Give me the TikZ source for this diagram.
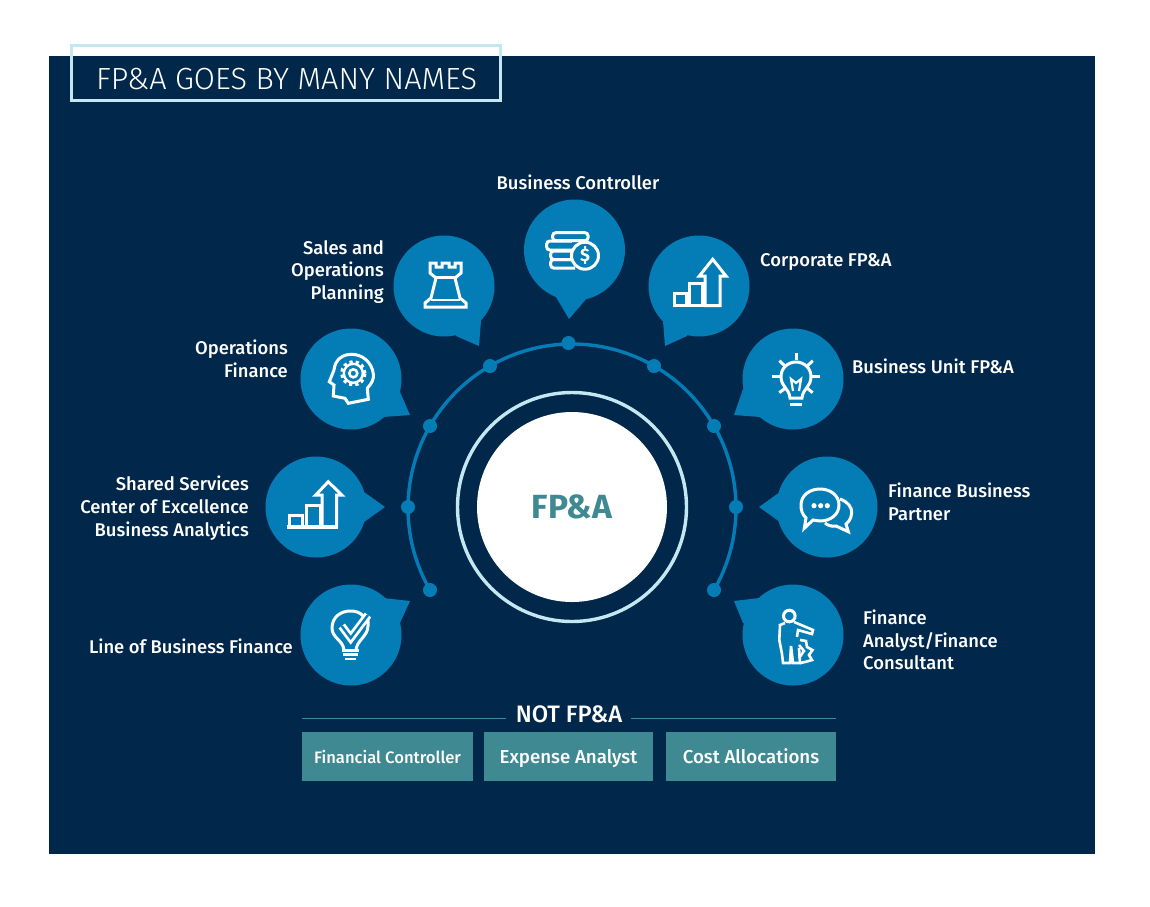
\documentclass[tikz,border=0pt]{standalone}
\usepackage{fontspec}
\setmainfont{Fira Sans}
\newfontfamily\labelfont{Fira Sans Medium}
\newfontfamily\headfont{Fira Sans Light}
\usetikzlibrary{positioning}
\definecolor{FpaNavy}{HTML}{01274A}
\definecolor{FpaBlue}{HTML}{047DB7}
\definecolor{FpaPale}{HTML}{C3E8F1}
\definecolor{FpaTeal}{HTML}{3F8992}

\begin{document}
\begin{tikzpicture}[
    x=1pt, y=-1pt,
    pin/.style={circle, fill=FpaBlue, minimum size=101pt, inner sep=0pt},
    pinfill/.style={fill=FpaBlue},
    dot/.style={circle, fill=FpaBlue, minimum size=14pt, inner sep=0pt},
    role/.style={text=white, font=\labelfont\fontsize{18.4}{22.7}\selectfont, inner sep=0pt},
    leftrole/.style={role, align=right, anchor=east},
    rightrole/.style={role, align=left, anchor=west},
    notbox/.style={fill=FpaTeal, text=white, minimum height=49pt, inner sep=0pt,
      text height=17pt, text depth=4pt, font=\labelfont\fontsize{18.7}{20}\selectfont},
    icon/.style={draw=white, line width=3pt, line join=miter},
    tick/.style={draw=white, line width=3pt}
  ]
    \useasboundingbox (0,0) rectangle (1150,906);
    \fill[white] (0,0) rectangle (1150,906);
    \fill[FpaNavy] (49,56) rectangle (1095,854);
    \node[draw=FpaPale, line width=3pt, minimum width=429pt, minimum height=55pt, inner sep=0pt] (titlebox) at (285.5,72.5) {};
    \node[text=white, font=\headfont\fontsize{30.6}{34}\selectfont, inner sep=0pt] (title) at (286.5,79) {FP\&A GOES BY MANY NAMES};

    \node[circle, draw=FpaPale, line width=3.4pt, minimum size=229pt, inner sep=0pt] (ring) at (572,507) {};
    \node[circle, fill=white, minimum size=190pt, inner sep=0pt, text=FpaTeal, font=\bfseries\fontsize{33.5}{36}\selectfont] (core) at (572,507) {FP\&A};

    \node[dot] (dota) at (430,590) {};
    \node[dot] (dotb) at (408,507) {};
    \node[dot] (dotc) at (430,426) {};
    \node[dot] (dotd) at (490,366) {};
    \node[dot] (dote) at (568.5,343) {};
    \node[dot] (dotf) at (654,366) {};
    \node[dot] (dotg) at (714,426) {};
    \node[dot] (doth) at (736,507) {};
    \node[dot] (doti) at (714,590) {};
    \draw[FpaBlue, line width=3.4pt] (dota.center) arc[start angle=210, end angle=-30, radius=164pt];

    \node[pin] (controller) at (574.5,250) {};
    \fill[pinfill] (controller.center) -- (556,297) -- (569,319) -- (587,298) -- cycle;
    \node[pin] (sales) at (444,286) {};
    \fill[pinfill] (sales.center) -- (456,336) -- (479,346) -- (481,321) -- cycle;
    \node[pin] (corporate) at (699,286) {};
    \fill[pinfill] (corporate.center) -- (687,336) -- (665,346) -- (663,321) -- cycle;
    \node[pin] (operations) at (351,379) {};
    \fill[pinfill] (operations.center) -- (400,392) -- (410,415) -- (383,417) -- cycle;
    \node[pin] (unit) at (793,379) {};
    \fill[pinfill] (unit.center) -- (743,389) -- (734,415) -- (760,417) -- cycle;
    \node[pin] (shared) at (316,507) {};
    \fill[pinfill] (shared.center) -- (364,492) -- (385,507) -- (364,522) -- cycle;
    \node[pin] (partner) at (827,507) {};
    \fill[pinfill] (partner.center) -- (780,492) -- (759,507) -- (780,522) -- cycle;
    \node[pin] (line) at (351,635) {};
    \fill[pinfill] (line.center) -- (400,623) -- (410,601) -- (383,598) -- cycle;
    \node[pin] (analyst) at (793,635) {};
    \fill[pinfill] (analyst.center) -- (743,623) -- (734,601) -- (759,598) -- cycle;

    \node[role] (lblcontroller) at (578,182) {Business Controller};
    \node[leftrole] (lblsales) at (384,272) {Sales and\\Operations\\Planning};
    \node[rightrole] (lblcorporate) at (760,262.5) {Corporate FP\&A};
    \node[leftrole] (lbloperations) at (288,359) {Operations\\Finance};
    \node[rightrole] (lblunit) at (852,366.5) {Business Unit FP\&A};
    \node[leftrole] (lblshared) at (249,508) {Shared Services\\Center of Excellence\\Business Analytics};
    \node[rightrole] (lblpartner) at (888,502) {Finance Business\\Partner};
    \node[leftrole] (lblline) at (293,646.5) {Line of Business Finance};
    \node[rightrole] (lblanalyst) at (863,640) {Finance\\Analyst/Finance\\Consultant};

    \node[text=white, font=\labelfont\fontsize{23.8}{26}\selectfont, inner sep=0pt] (notfpa) at (569,714) {NOT FP\&A};
    \draw[FpaTeal, line width=1pt] (notfpa.west) ++(-10,4) -- (302,718);
    \draw[FpaTeal, line width=1pt] (notfpa.east) ++(9,4) -- (836,718);
    \node[notbox, minimum width=171pt, font=\labelfont\fontsize{16.6}{20}\selectfont] (financial) at (387.5,756.5) {Financial Controller};
    \node[notbox, minimum width=169pt] (expense) at (568.5,756.5) {Expense Analyst};
    \node[notbox, minimum width=170pt] (cost) at (751,756.5) {Cost Allocations};

    % coins
    \draw[icon, rounded corners=3pt] (575,240.7) -- (588,240.7) -- (588,232.7) -- (552.7,232.7) -- (552.7,240.7) -- (575,240.7);
    \draw[icon, rounded corners=3pt] (572,241) -- (546.7,241) -- (546.7,250) -- (572,250);
    \draw[icon, rounded corners=3pt] (572,251) -- (550.7,251) -- (550.7,259.5) -- (572,259.5);
    \draw[icon, rounded corners=3pt] (572,259.5) -- (550.7,259.5) -- (550.7,268) -- (575,268);
    \node[circle, draw=white, fill=FpaBlue, line width=3pt, minimum size=27pt, inner sep=0pt, text=white, font=\bfseries\fontsize{18}{18}\selectfont] (coin) at (585,255.7) {\$};

    % rook
    \draw[icon] (430,263) -- (436,263) -- (436,267) -- (442,267) -- (442,263) -- (449,263) -- (449,267) -- (455,267) -- (455,263) -- (461,263) -- (461,273) -- (455,278) -- (460,298) -- (466,303) -- (466,307) -- (425,307) -- (425,303) -- (431,298) -- (436,278) -- (430,273) -- cycle;
    \draw[icon] (436,277) -- (455,277);
    \draw[icon, line width=2pt] (431,300) -- (460,300);

    % rising chart
    \draw[icon] (674.3,293.3) rectangle (686.7,305.7);
    \draw[icon] (689.5,283.3) rectangle (702.7,305.7);
    \draw[icon] (705,305.7) -- (705,276) -- (699.3,276) -- (712.7,259.3) -- (726,276) -- (720,276) -- (720,305.7) -- cycle;

    % head with gear
    \draw[icon] (368.3,399.3) -- (367.3,388.3) .. controls (372,383) and (374,379) .. (373.3,374) .. controls (372,362) and (362,354.3) .. (351.7,354.3) .. controls (342,354.3) and (335,360) .. (334,370) -- (329.3,381.7) -- (334,385) -- (333.3,396) -- (345,398.3) -- (348.3,403.3) -- cycle;
    \draw[white, line width=3.4pt, dash pattern=on 3.2pt off 3pt] (353.3,373.3) circle[radius=11.5pt];
    \draw[white, line width=2.4pt] (353.3,373.3) circle[radius=9.5pt];
    \draw[white, line width=2.6pt] (353.3,373.3) circle[radius=4pt];

    % left chart
    \draw[white, line width=3.6pt] (287.3,527) -- (338,527);
    \draw[icon] (289.3,527) -- (289.3,515) -- (302.7,515) -- (302.7,527);
    \draw[icon] (306,527) -- (306,505) -- (320,505) -- (320,527);
    \draw[icon] (322,527) -- (322,495) -- (315.7,495) -- (328.3,481.7) -- (341.7,495) -- (336.7,495) -- (336.7,527);

    % bulb with tick
    \draw[icon] (344,650) .. controls (343,640) and (332,638) .. (332,628) .. controls (332,617) and (341,611) .. (350,611) .. controls (355,611) and (360,612) .. (363,616);
    \draw[icon] (356,650) .. controls (357,640) and (368,636) .. (368,626) -- (368,620);
    \draw[white, line width=8pt, line join=miter] (341.7,626) -- (350.7,638) -- (368,615);
    \draw[FpaBlue, line width=2.4pt, line join=miter] (341.7,626) -- (350.7,638) -- (368,615);
    \draw[tick] (341.7,650) -- (359,650);
    \draw[tick, line width=2.5pt] (343,654.5) -- (358,654.5);
    \draw[tick, line width=2.5pt] (345,659) -- (356,659);

    % bulb with rays
    \draw[icon] (790,398) .. controls (789,388) and (781,387) .. (781,376.7) .. controls (781,368) and (788,362) .. (796,362) .. controls (804,362) and (811,368) .. (811,376.7) .. controls (811,387) and (803,388) .. (802,398) -- cycle;
    \draw[icon] (790,404) -- (802,404);
    \draw[tick, line width=2.2pt] (793,391) -- (791,379) -- (796,383) -- (801,379) -- (799,391);
    \draw[tick] (796,353) -- (796,360);
    \draw[tick] (811.7,376.7) -- (820,376.7);
    \draw[tick] (771.7,376.7) -- (780,376.7);
    \draw[tick] (779.3,360.7) -- (785,366);
    \draw[tick] (812.7,360.7) -- (807.3,366);
    \draw[tick] (779.3,392.7) -- (785,388.3);
    \draw[tick] (812.7,392.7) -- (807.3,388.3);

    % speech bubbles
    \draw[icon] (840,499) .. controls (848,502) and (852,507) .. (851.7,513) .. controls (851,520) and (848,522) .. (846,524) -- (848.3,531.7) -- (836,526) .. controls (832,527) and (827,525) .. (825,523);
    \draw[icon] (804.3,528.3) -- (806,518) .. controls (802,514) and (801,510) .. (801,505) .. controls (801,495) and (810,489) .. (820,489) .. controls (830,489) and (839,495) .. (839,505) .. controls (839,515) and (830,521) .. (820,521) .. controls (817,521) and (815,520) .. (813,520) -- cycle;
    \fill[white] (814,505.7) circle[radius=2.6pt] (820.7,505.7) circle[radius=2.6pt] (827.3,505.7) circle[radius=2.6pt];

    % person with gear
    \draw[icon] (789.3,616) circle[radius=5.8pt];
    \draw[icon, line width=2.6pt] (785,623) -- (780,625) -- (779.3,640) -- (782,654) -- (783,663) -- (790,663) -- (791,646) -- (793,663) -- (800,663) -- (799,648);
    \draw[icon, line width=2.6pt] (794,622) -- (813,630) -- (812,634) -- (798,630) -- (797,637);
    \draw[icon, line width=2.6pt] (800,640) -- (806,641) -- (807,647) -- (812.5,650) -- (809,655) -- (812,660) -- (805,662) -- (800,663);
    \draw[icon, line width=2.6pt] (799,645) -- (804,651) -- (799,658);
  \end{tikzpicture}
\end{document}
